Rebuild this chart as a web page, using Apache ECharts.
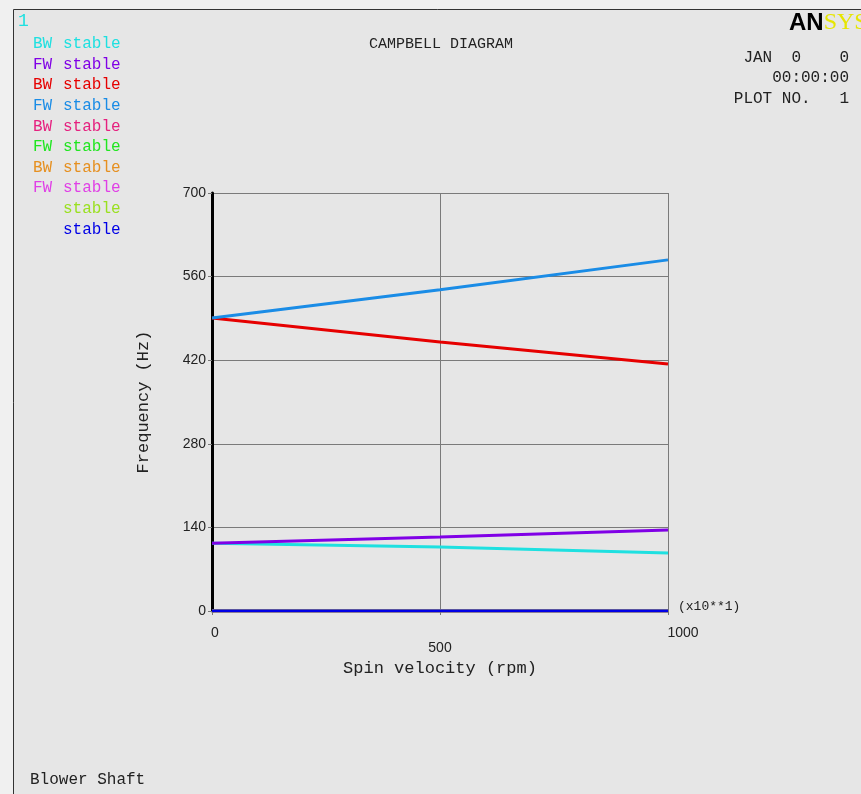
<!DOCTYPE html>
<html>
<head>
<meta charset="utf-8">
<title>Campbell Diagram</title>
<script src="https://cdn.jsdelivr.net/npm/echarts@6/dist/echarts.min.js"></script>
<style>
  html, body { margin: 0; padding: 0; background: #f0f0f0; }
  #chart { width: 861px; height: 794px; }
</style>
</head>
<body>
<div id="chart"></div>
<script>
// Spin velocity samples (rpm, in units of x10**1)
const spinSpeeds = [0, 500, 1000];

// Whirl frequencies (Hz) for each mode at the sampled spin speeds
const mode1BW = [113.5, 107, 97];
const mode1FW = [113.5, 124, 135.5];
const mode2BW = [490.5, 450.5, 413.5];
const mode2FW = [490.5, 538, 588];
const mode3BW = [0, 0, 0];
const mode3FW = [0, 0, 0];
const mode4BW = [0, 0, 0];
const mode4FW = [0, 0, 0];
const mode5 = [0, 0, 0];
const mode6 = [0, 0, 0];

// Legend entries: whirl direction, stability, colour
const whirlLabels = ['BW', 'FW', 'BW', 'FW', 'BW', 'FW', 'BW', 'FW', '', ''];
const stabilityLabels = ['stable', 'stable', 'stable', 'stable', 'stable', 'stable', 'stable', 'stable', 'stable', 'stable'];
const modeColors = ['#1ee0e0', '#8000e6', '#e60000', '#1a8ce6', '#e6207f', '#20e620', '#e69020', '#e040e6', '#9ae020', '#0000e6'];
const modeData = [mode1BW, mode1FW, mode2BW, mode2FW, mode3BW, mode3FW, mode4BW, mode4FW, mode5, mode6];

// Axis tick values
const freqTicks = { min: 0, max: 700, interval: 140 };
const spinTicks = { min: 0, max: 1000, interval: 500 };

const FONT = '"Liberation Mono", "DejaVu Sans Mono", monospace';
const NUMFONT = '"Liberation Sans Narrow", "Liberation Sans", sans-serif';

const chart = echarts.init(document.getElementById('chart'), null, { renderer: 'canvas' });

// draw order: the last modes go underneath, the dark-blue one on top
const seriesOrder = [4, 5, 6, 7, 8, 0, 1, 2, 3, 9];
const series = seriesOrder.map(i => ({
  name: (whirlLabels[i] ? whirlLabels[i] + ' ' : '') + stabilityLabels[i] + ' ' + (i + 1),
  type: 'line',
  data: spinSpeeds.map((s, k) => [s, modeData[i][k]]),
  showSymbol: false,
  symbol: 'none',
  lineStyle: { color: modeColors[i], width: 3 },
  itemStyle: { color: modeColors[i] },
  animation: false,
  z: 3
}));

const legendGraphics = [];
whirlLabels.forEach((w, i) => {
  const y = 45 + i * 20.6;
  if (w) {
    legendGraphics.push({
      type: 'text', position: [33, y - 9],
      style: { text: w, fill: modeColors[i], font: '16px ' + FONT }
    });
  }
  legendGraphics.push({
    type: 'text', position: [63, y - 9],
    style: { text: stabilityLabels[i], fill: modeColors[i], font: '16px ' + FONT }
  });
});

const option = {
  backgroundColor: '#f0f0f0',
  animation: false,
  grid: { left: 212, top: 193, right: 193, bottom: 183, containLabel: false },
  xAxis: {
    type: 'value',
    min: spinTicks.min, max: spinTicks.max, interval: spinTicks.interval,
    name: 'Spin velocity (rpm)',
    nameLocation: 'middle',
    nameGap: 42,
    nameTextStyle: { color: '#222', fontFamily: FONT, fontSize: 17 },
    axisLine: { show: false },
    axisTick: { show: true, length: 4, lineStyle: { color: '#777' } },
    splitLine: { show: true, lineStyle: { color: '#7a7a7a', width: 1 } },
    axisLabel: {
      color: '#222', fontFamily: NUMFONT, fontSize: 14,
      margin: 15,
      formatter: v => v === 0 ? '{a|0}' : (v === 1000 ? '{c|1000}' : '{b|' + v + '}'),
      rich: {
        a: { padding: [0, 0, 0, 6], fontSize: 14, color: '#222', fontFamily: NUMFONT },
        b: { padding: [15, 0, 0, 0], fontSize: 14, color: '#222', fontFamily: NUMFONT },
        c: { padding: [0, 0, 0, 30], fontSize: 14, color: '#222', fontFamily: NUMFONT }
      }
    }
  },
  yAxis: {
    type: 'value',
    min: freqTicks.min, max: freqTicks.max, interval: freqTicks.interval,
    name: 'Frequency (Hz)',
    nameLocation: 'middle',
    nameGap: 60,
    nameTextStyle: { color: '#222', fontFamily: FONT, fontSize: 17 },
    axisLine: { show: true, lineStyle: { color: '#000', width: 3 } },
    axisTick: { show: true, length: 4, lineStyle: { color: '#777' } },
    splitLine: { show: true, lineStyle: { color: '#7a7a7a', width: 1 } },
    axisLabel: { color: '#222', fontFamily: NUMFONT, fontSize: 14, margin: 6 }
  },
  graphic: [
    // frame
    {
      type: 'rect', z: -10, silent: true,
      shape: { x: 13.5, y: 9.5, width: 900, height: 900 },
      style: { fill: '#e6e6e6', stroke: '#333', lineWidth: 1 }
    },
    {
      type: 'text', position: [18, 12],
      style: { text: '1', fill: '#1ee0e0', font: '18px ' + FONT }
    },
    {
      type: 'text', position: [441, 37],
      style: { text: 'CAMPBELL DIAGRAM', fill: '#222', font: '15px ' + FONT, align: 'center' }
    },
    // logo
    {
      type: 'text', position: [789, 11],
      style: { text: '{a|AN}{b|SYS}',
        rich: {
          a: { fill: '#000', fontWeight: 'bold', fontSize: 24, fontFamily: NUMFONT },
          b: { fill: '#e6e600', fontSize: 24, fontFamily: '"Liberation Serif", serif' }
        } }
    },
    {
      type: 'text', position: [849, 50],
      style: { text: 'JAN  0    0', fill: '#222', font: '16px ' + FONT, align: 'right' }
    },
    {
      type: 'text', position: [849, 70],
      style: { text: '00:00:00', fill: '#222', font: '16px ' + FONT, align: 'right' }
    },
    {
      type: 'text', position: [849, 91],
      style: { text: 'PLOT NO.   1', fill: '#222', font: '16px ' + FONT, align: 'right' }
    },
    {
      type: 'text', position: [678, 600],
      style: { text: '(x10**1)', fill: '#222', font: '13px ' + FONT }
    },
    {
      type: 'text', position: [30, 772],
      style: { text: 'Blower Shaft', fill: '#222', font: '16px ' + FONT }
    }
  ].concat(legendGraphics),
  series: series
};

chart.setOption(option);
</script>
</body>
</html>
